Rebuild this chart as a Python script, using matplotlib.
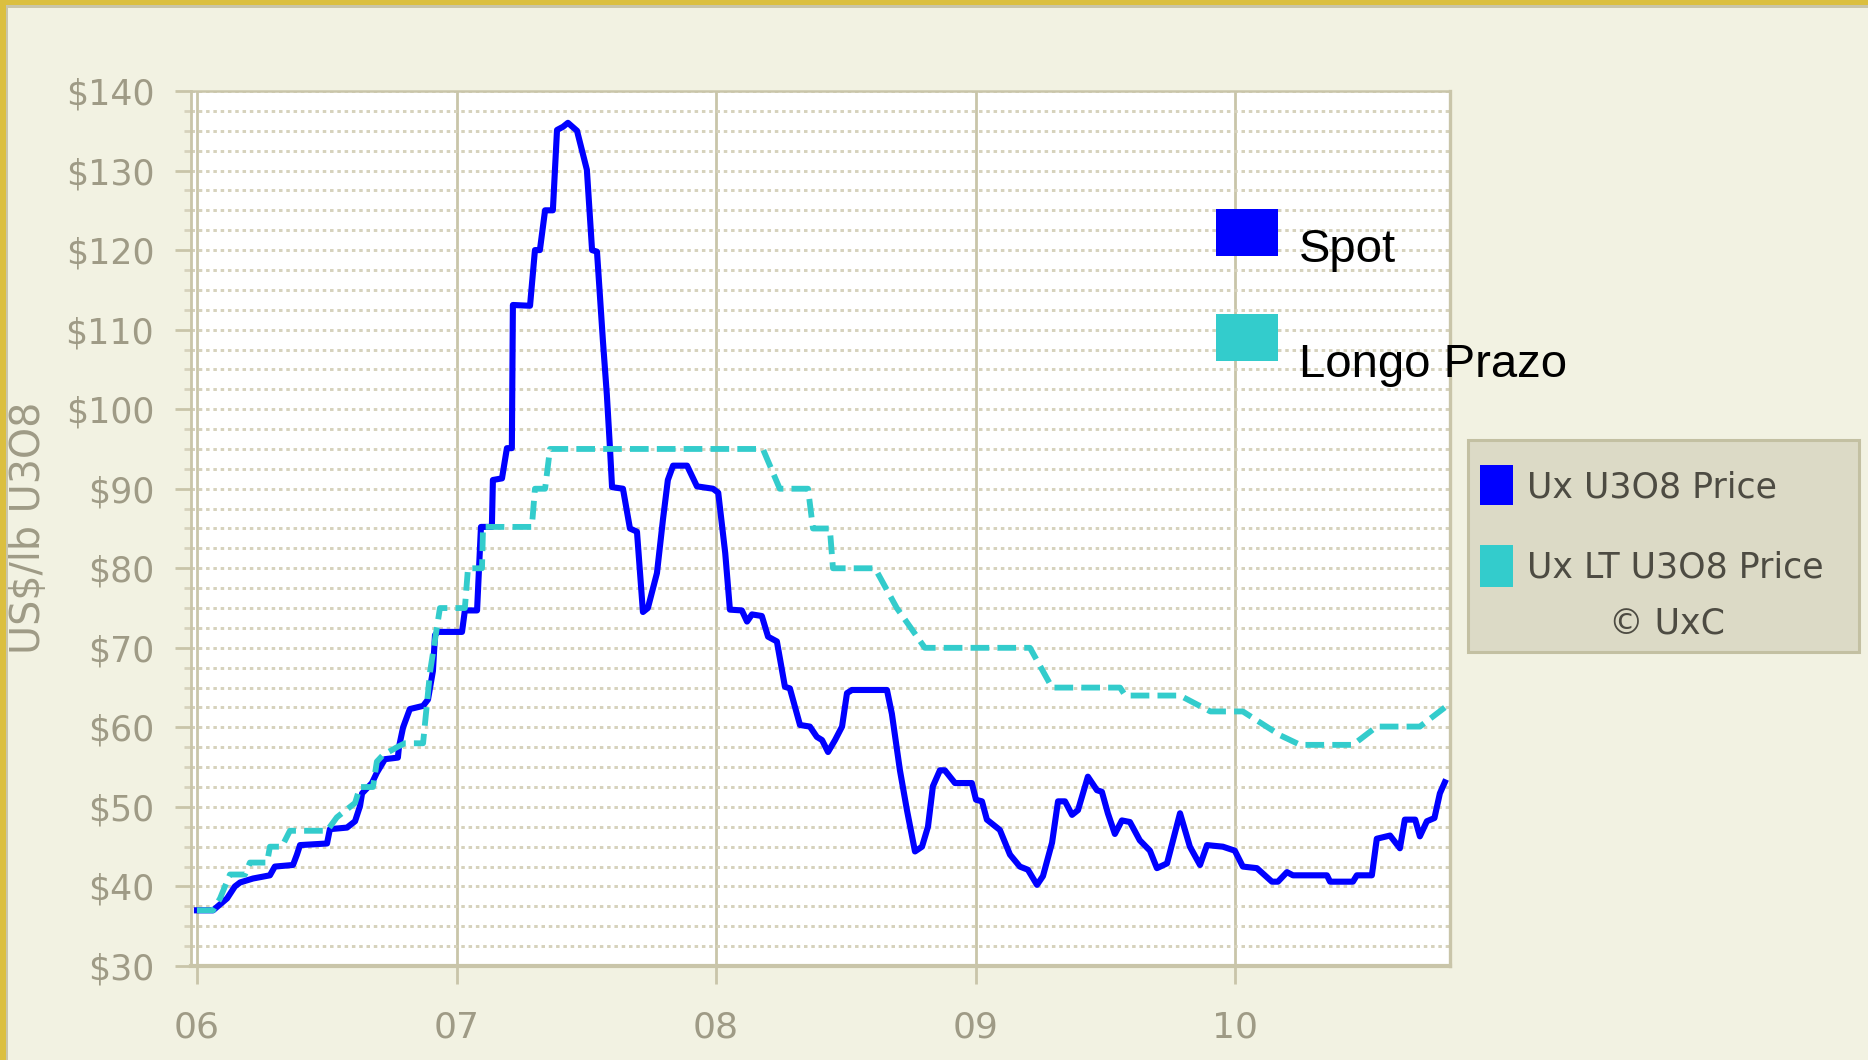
import matplotlib
matplotlib.use('Agg')
import matplotlib.pyplot as plt
from matplotlib.patches import Rectangle
import numpy as np

# ---------------- data (years as 6 = 2006 ...) ----------------
spot_years = [6.000, 6.062, 6.116, 6.146, 6.166, 6.216, 6.281, 6.300, 6.370, 6.385,
              6.397, 6.501, 6.512, 6.578, 6.609, 6.628, 6.636, 6.674, 6.693, 6.724,
              6.774, 6.778, 6.794, 6.820, 6.871, 6.890, 6.909, 6.917, 6.928, 7.021,
              7.032, 7.079, 7.094, 7.136, 7.140, 7.175, 7.194, 7.213, 7.217, 7.283,
              7.302, 7.321, 7.341, 7.371, 7.387, 7.410, 7.429, 7.464, 7.502, 7.522,
              7.541, 7.564, 7.579, 7.591, 7.599, 7.641, 7.668, 7.695, 7.718, 7.737,
              7.772, 7.795, 7.814, 7.834, 7.888, 7.926, 7.988, 8.008, 8.035, 8.053,
              8.099, 8.119, 8.138, 8.176, 8.200, 8.234, 8.265, 8.284, 8.323, 8.361,
              8.388, 8.408, 8.431, 8.458, 8.485, 8.504, 8.523, 8.658, 8.677, 8.708,
              8.735, 8.766, 8.793, 8.816, 8.835, 8.862, 8.881, 8.920, 8.985, 9.001,
              9.024, 9.043, 9.066, 9.093, 9.132, 9.170, 9.201, 9.236, 9.259, 9.294,
              9.317, 9.344, 9.371, 9.394, 9.432, 9.467, 9.486, 9.509, 9.536, 9.563,
              9.594, 9.632, 9.671, 9.698, 9.737, 9.787, 9.825, 9.864, 9.891, 9.952,
              9.998, 10.029, 10.083, 10.141, 10.164, 10.199, 10.222, 10.353, 10.365, 10.453,
              10.468, 10.526, 10.545, 10.596, 10.634, 10.653, 10.693, 10.711, 10.738, 10.767,
              10.788, 10.807]
spot_prices = [37, 37, 38.5, 40, 40.5, 41, 41.4, 42.5, 42.7, 44,
               45.2, 45.4, 47.2, 47.4, 48.2, 50.1, 51.7, 53, 54.3, 56,
               56.2, 57.5, 60, 62.3, 62.7, 63.5, 67.1, 71.6, 72, 72,
               74.7, 74.7, 85.2, 85.2, 91.1, 91.3, 95.1, 95.1, 113.1, 113,
               120, 120, 125, 125, 135.1, 135.5, 136, 135, 130.1, 120,
               119.8, 108.5, 101.8, 95.1, 90.2, 90, 85, 84.6, 74.5, 75,
               79.4, 86.1, 91.1, 92.9, 92.9, 90.3, 90, 89.5, 81.9, 74.8,
               74.7, 73.3, 74.2, 74, 71.4, 70.8, 65.1, 64.9, 60.3, 60.1,
               58.8, 58.4, 56.9, 58.4, 60.1, 64.3, 64.7, 64.7, 61.7, 54.6,
               49.6, 44.4, 45, 47.5, 52.6, 54.6, 54.6, 53, 53, 50.9,
               50.7, 48.4, 47.8, 47.1, 44, 42.5, 42.1, 40.2, 41.3, 45.5,
               50.7, 50.7, 49, 49.6, 53.8, 52.1, 51.9, 49.2, 46.6, 48.3,
               48.1, 45.8, 44.5, 42.3, 42.9, 49.2, 45, 42.7, 45.2, 45,
               44.5, 42.5, 42.3, 40.6, 40.6, 41.8, 41.4, 41.4, 40.6, 40.6,
               41.4, 41.4, 46.0, 46.4, 44.8, 48.4, 48.4, 46.3, 48.2, 48.6,
               51.7, 53.1]

lt_years = [6.000, 6.062, 6.089, 6.104, 6.127, 6.185, 6.204, 6.270, 6.281, 6.327,
            6.358, 6.501, 6.539, 6.609, 6.628, 6.678, 6.693, 6.716, 6.770, 6.801,
            6.871, 6.898, 6.924, 6.936, 7.032, 7.044, 7.098, 7.102, 7.290, 7.302,
            7.341, 7.360, 8.180, 8.245, 8.354, 8.373, 8.438, 8.450, 8.612, 8.696,
            8.804, 9.209, 9.294, 9.556, 9.576, 9.787, 9.904, 10.029, 10.173, 10.250,
            10.453, 10.545, 10.711, 10.807]
lt_prices = [37, 37, 38.5, 39.7, 41.5, 41.5, 43, 43, 45, 45,
             47, 47, 48.7, 50.5, 52.5, 52.5, 55.7, 56.5, 57.5, 58,
             58, 67, 72.5, 75, 75, 80, 80, 85.2, 85.2, 90,
             90, 95, 95, 90, 90, 85, 85, 80, 80, 75,
             70, 70, 65, 65, 64, 64, 62, 62, 59, 57.8,
             57.8, 60.1, 60.1, 62.5]

year_ticks = [6, 7, 8, 9, 10]
year_labels = ['06', '07', '08', '09', '10']
price_ticks = list(range(30, 141, 10))
price_labels = [r'\$' + str(v) for v in price_ticks]
price_minor = [v for v in np.arange(32.5, 140, 2.5) if v % 10 != 0]

series_names = ['Spot', 'Longo Prazo']
box_names = ['Ux U3O8 Price', 'Ux LT U3O8 Price']
ylabel_text = 'US$/lb U3O8'
copyright_text = '\u00a9 UxC'

# ---------------- style ----------------
W, H, DPI = 1868, 1060, 100
BG = '#f2f2e2'
GOLD = '#dbbf3f'
FRAME = '#c9c5a9'
GRID = '#d6d2bc'
LABC = '#9f9b86'
BLUE = '#0000ff'
CYAN = '#33cccc'


def fx(px):
    return px / W


def fy(py):
    return 1 - py / H


fig = plt.figure(figsize=(W / DPI, H / DPI), dpi=DPI, facecolor=BG)

ax = fig.add_axes([fx(191), fy(966), (1450 - 191) / W, (966 - 91) / H])
ax.set_facecolor('white')
ax.set_xlim(5.977, 10.827)
ax.set_ylim(30, 140)
ax.set_axisbelow(True)

ax.set_xticks(year_ticks)
ax.set_xticklabels(year_labels)
ax.set_yticks(price_ticks)
ax.set_yticklabels(price_labels)
ax.set_yticks(price_minor, minor=True)

ax.grid(axis='y', which='both', color=GRID, lw=2.1, linestyle=(0, (1.2, 1.3)))
ax.grid(axis='x', which='major', color=FRAME, lw=2.0, linestyle='-')

ax.tick_params(axis='y', which='major', length=11.5, width=2.0, color=FRAME,
               direction='out', pad=15, labelsize=25, labelcolor=LABC)
ax.tick_params(axis='y', which='minor', length=5, width=2.0, color=GRID,
               direction='out')
ax.tick_params(axis='x', which='major', length=13, width=2.0, color=FRAME,
               direction='out', pad=19, labelsize=26, labelcolor=LABC)

for side, lw in [('left', 2.0), ('right', 2.4), ('top', 1.8), ('bottom', 3.0)]:
    ax.spines[side].set_color(FRAME)
    ax.spines[side].set_linewidth(lw)

ax.plot(spot_years, spot_prices, color=BLUE, lw=4.4, solid_joinstyle='round', zorder=3)
ax.plot(lt_years, lt_prices, color=CYAN, lw=4.2, dashes=(3.2, 1.4), zorder=4)

# y label
fig.text(fx(29), fy(528), ylabel_text, rotation=90, ha='center', va='center',
         fontsize=28.5, color=LABC)

# inner legend (Spot / Longo Prazo)
fig.add_artist(Rectangle((fx(1216), fy(256)), (1278 - 1216) / W, (256 - 209) / H,
                         transform=fig.transFigure, facecolor=BLUE, edgecolor='none', zorder=10))
fig.add_artist(Rectangle((fx(1216), fy(361)), (1278 - 1216) / W, (361 - 314) / H,
                         transform=fig.transFigure, facecolor=CYAN, edgecolor='none', zorder=10))
fig.text(fx(1299), fy(262), series_names[0], va='baseline', ha='left', fontsize=34,
         family='Liberation Sans', color='black', zorder=11)
fig.text(fx(1299), fy(377), series_names[1], va='baseline', ha='left', fontsize=34,
         family='Liberation Sans', color='black', zorder=11)

# right legend box
fig.add_artist(Rectangle((fx(1468), fy(652)), (1859 - 1468) / W, (652 - 440) / H,
                         transform=fig.transFigure, facecolor='#dcdac6', edgecolor='#c3c0a2',
                         lw=2.2, zorder=5))
fig.add_artist(Rectangle((fx(1480), fy(505)), (1513 - 1480) / W, (505 - 465) / H,
                         transform=fig.transFigure, facecolor=BLUE, edgecolor='none', zorder=6))
fig.add_artist(Rectangle((fx(1480), fy(587)), (1513 - 1480) / W, (587 - 545) / H,
                         transform=fig.transFigure, facecolor=CYAN, edgecolor='none', zorder=6))
fig.text(fx(1527), fy(498), box_names[0], va='baseline', ha='left', fontsize=25,
         color='#4d4b42', zorder=7)
fig.text(fx(1527), fy(578), box_names[1], va='baseline', ha='left', fontsize=25,
         color='#4d4b42', zorder=7)
fig.text(fx(1667), fy(633), copyright_text, va='baseline', ha='center', fontsize=25,
         color='#4d4b42', zorder=7)

# outer gold frame (top and left)
fig.add_artist(Rectangle((0, fy(5)), 1, 5 / H, transform=fig.transFigure,
                         facecolor=GOLD, edgecolor='none', zorder=20))
fig.add_artist(Rectangle((0, 0), 6 / W, 1, transform=fig.transFigure,
                         facecolor=GOLD, edgecolor='none', zorder=20))
fig.add_artist(Rectangle((fx(6), fy(8)), 1, 3 / H, transform=fig.transFigure,
                         facecolor=FRAME, edgecolor='none', zorder=19))
fig.add_artist(Rectangle((fx(6), 0), 2 / W, fy(5), transform=fig.transFigure,
                         facecolor=FRAME, edgecolor='none', zorder=19))

fig.savefig('out.png', dpi=DPI, facecolor=BG)
